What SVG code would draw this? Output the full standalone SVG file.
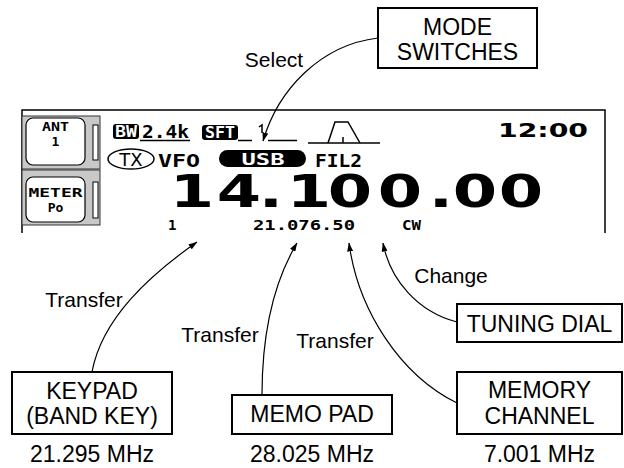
<svg xmlns="http://www.w3.org/2000/svg" width="624" height="468" viewBox="0 0 624 468">
<style>
.box{fill:#fff;stroke:#000;stroke-width:2}
.lbl{font-family:"Liberation Sans",Arial,sans-serif;font-size:23px;fill:#000;text-anchor:middle}
.sm{font-family:"Liberation Sans",Arial,sans-serif;font-size:21px;fill:#000;text-anchor:middle}
.fq{font-family:"Liberation Sans",Arial,sans-serif;font-size:23px;fill:#000;text-anchor:middle}
.lcd{font-family:"DejaVu Sans Mono",monospace;font-weight:bold;fill:#000}
.lcdw{font-family:"DejaVu Sans Mono",monospace;font-weight:bold;fill:#fff;text-anchor:middle}
.conn{fill:none;stroke:#000;stroke-width:1.2}
.ln{stroke:#000;stroke-width:1.5;fill:none}
</style>
<defs>
<marker id="ah" markerWidth="9" markerHeight="6" refX="8.5" refY="3" orient="auto" markerUnits="userSpaceOnUse">
<path d="M0,0 L9,3 L0,6 z" fill="#000"/>
</marker>
</defs>

<g id="display">
<path class="ln" d="M22,233 V110 H605 V233"/>
<rect x="22" y="116" width="78" height="53" fill="#c8c8c8" stroke="#333" stroke-width="1"/>
<rect x="22" y="170" width="78" height="55" fill="#c8c8c8" stroke="#333" stroke-width="1"/>
<rect x="26" y="118" width="59" height="47" rx="7" fill="#fff" stroke="#000" stroke-width="1.2"/>
<rect x="26" y="177" width="59" height="45" rx="7" fill="#fff" stroke="#000" stroke-width="1.2"/>
<rect x="93" y="125" width="5" height="35" fill="#fff" stroke="#000" stroke-width="1"/>
<rect x="93" y="182" width="5" height="36" fill="#fff" stroke="#000" stroke-width="1"/>
<text class="lcd" x="55.5" y="131" font-size="13" text-anchor="middle" textLength="27" lengthAdjust="spacingAndGlyphs">ANT</text>
<text class="lcd" x="55.5" y="146" font-size="13" text-anchor="middle">1</text>
<text class="lcd" x="55.5" y="197" font-size="13" text-anchor="middle" textLength="54" lengthAdjust="spacingAndGlyphs">METER</text>
<text class="lcd" x="55.5" y="212" font-size="13" text-anchor="middle">Po</text>

<rect x="113" y="124" width="26" height="15" rx="3" fill="#000"/>
<text class="lcdw" x="126" y="137" font-size="15" textLength="22" lengthAdjust="spacingAndGlyphs">BW</text>
<text class="lcd" x="142" y="138" font-size="17" textLength="47" lengthAdjust="spacingAndGlyphs">2.4k</text>
<line class="ln" x1="140" y1="140.5" x2="190" y2="140.5"/>
<rect x="202" y="125" width="36" height="15" rx="3" fill="#000"/>
<text class="lcdw" x="220" y="138" font-size="15" textLength="30" lengthAdjust="spacingAndGlyphs">SFT</text>
<line class="ln" x1="238" y1="140.5" x2="252" y2="140.5"/>
<path class="ln" d="M259,127 L262,125 L262,133"/>
<line class="ln" x1="268" y1="140.5" x2="297" y2="140.5"/>
<line class="ln" x1="308" y1="143" x2="380" y2="143"/>
<polyline class="ln" points="328,143 335,122 348,122 360,143"/>
<line class="ln" x1="343" y1="137" x2="343" y2="143"/>
<text x="498" y="137" font-family="DejaVu Sans,sans-serif" font-weight="bold" font-size="19" textLength="90" lengthAdjust="spacingAndGlyphs">12:00</text>

<ellipse cx="131" cy="159" rx="23" ry="10" fill="none" stroke="#000" stroke-width="1.5"/>
<text x="131" y="166" font-family="DejaVu Sans,sans-serif" font-size="18" text-anchor="middle">TX</text>
<text class="lcd" x="158" y="167" font-size="18" textLength="42" lengthAdjust="spacingAndGlyphs">VFO</text>
<rect x="219" y="150" width="87" height="17" rx="8.5" fill="#000"/>
<text class="lcdw" x="263" y="165" font-size="16" textLength="43" lengthAdjust="spacingAndGlyphs">USB</text>
<text class="lcd" x="315" y="167" font-size="17" textLength="47" lengthAdjust="spacingAndGlyphs">FIL2</text>

<text transform="scale(1.45 1)" y="207" font-family="DejaVu Sans,sans-serif" font-weight="bold" font-size="44" text-anchor="middle" x="132.4 164.8 186.9 213.1 241.4 275.9 304.1 327.6 359.3">14.100.00</text>

<text class="lcd" x="168" y="230" font-size="14">1</text>
<text class="lcd" x="253" y="230" font-size="14" textLength="102" lengthAdjust="spacingAndGlyphs">21.076.50</text>
<text class="lcd" x="402" y="230" font-size="14" textLength="19" lengthAdjust="spacingAndGlyphs">CW</text>
</g>

<g id="mode-switches">
<rect class="box" x="378" y="8" width="159" height="60"/>
<text class="lbl" x="457.5" y="35">MODE</text>
<text class="lbl" x="457.5" y="60">SWITCHES</text>
</g>

<g id="keypad">
<rect class="box" x="12" y="372" width="160" height="62"/>
<text class="lbl" x="92" y="399">KEYPAD</text>
<text class="lbl" x="92" y="424">(BAND KEY)</text>
<text class="fq" x="92" y="462">21.295 MHz</text>
</g>

<g id="memo-pad">
<rect class="box" x="232" y="395" width="160" height="39"/>
<text class="lbl" x="312" y="422">MEMO PAD</text>
<text class="fq" x="312" y="462">28.025 MHz</text>
</g>

<g id="memory-channel">
<rect class="box" x="457" y="372" width="165" height="62"/>
<text class="lbl" x="539.5" y="398">MEMORY</text>
<text class="lbl" x="539.5" y="424">CHANNEL</text>
<text class="fq" x="539.5" y="462">7.001 MHz</text>
</g>

<g id="tuning-dial">
<rect class="box" x="457" y="304" width="165" height="38"/>
<text class="lbl" x="539.5" y="332">TUNING DIAL</text>
</g>

<g id="connectors">
<path class="conn" marker-end="url(#ah)" d="M378,38 C320,45 278,90 263,141"/>
<path class="conn" marker-end="url(#ah)" d="M92,372 C102,318 150,275 197,242"/>
<path class="conn" marker-end="url(#ah)" d="M262,395 C262,330 275,280 297,243"/>
<path class="conn" marker-end="url(#ah)" d="M457,403 C400,375 358,310 349,243"/>
<path class="conn" marker-end="url(#ah)" d="M457,322 C418,312 390,280 383,243"/>
<text class="sm" x="274" y="67">Select</text>
<text class="sm" x="84" y="307">Transfer</text>
<text class="sm" x="220" y="342">Transfer</text>
<text class="sm" x="335" y="348">Transfer</text>
<text class="sm" x="451" y="283">Change</text>
</g>
</svg>
